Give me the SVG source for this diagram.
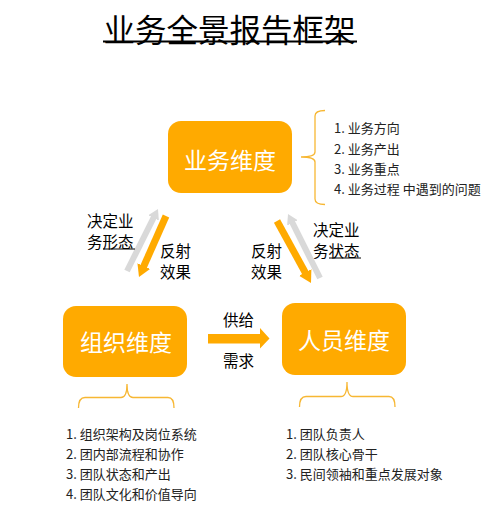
<svg xmlns="http://www.w3.org/2000/svg" width="499" height="514" viewBox="0 0 499 514">
<style>
text{font-family:"Noto Sans CJK SC","Liberation Sans",sans-serif;}
.box{fill:#FFAA00;}
.bl{fill:#fff;font-size:23px;text-anchor:middle;dominant-baseline:central;}
.lbl{fill:#000;font-size:15.5px;dominant-baseline:central;}
.li{fill:#222;font-size:13px;dominant-baseline:central;}
.brace{fill:none;stroke:#F7B733;stroke-width:1.3;}
.ua{stroke:#D9D9D9;stroke-width:6;fill:none;}
.oa{stroke:#FFAA00;stroke-width:7;fill:none;}
</style>
<defs>
<marker id="ho" markerUnits="userSpaceOnUse" viewBox="0 0 12 14" markerWidth="12" markerHeight="14" refX="2" refY="7" orient="auto"><path d="M0,0 L12,7 L0,14 z" fill="#FFAA00"/></marker>
<marker id="hg" markerUnits="userSpaceOnUse" viewBox="0 0 10 12" markerWidth="10" markerHeight="12" refX="2" refY="6" orient="auto"><path d="M0,0 L10,6 L0,12 z" fill="#D9D9D9"/></marker>
</defs>
<rect width="499" height="514" fill="#fff"/>
<g id="title">
<text x="229.5" y="28" font-size="31.5" text-anchor="middle" dominant-baseline="central" fill="#000">业务全景报告框架</text>
<rect x="103" y="40.5" width="254" height="2" fill="#000"/>
</g>
<g id="node-business">
<rect class="box" x="168" y="121" width="124" height="72" rx="13"/>
<text class="bl" x="230" y="159">业务维度</text>
</g>
<g id="node-org">
<rect class="box" x="63" y="306" width="124" height="71" rx="13"/>
<text class="bl" x="126" y="341">组织维度</text>
</g>
<g id="node-people">
<rect class="box" x="282" y="303" width="124" height="72" rx="13"/>
<text class="bl" x="344" y="339">人员维度</text>
</g>
<g id="connectors">
<line class="ua" x1="127" y1="271" x2="154.4" y2="216.2" marker-end="url(#hg)"/>
<line class="oa" x1="166" y1="216" x2="143.05" y2="267.85" marker-end="url(#ho)"/>
<line class="oa" x1="277" y1="221" x2="306.2" y2="274.2" marker-end="url(#ho)"/>
<line class="ua" x1="320" y1="278" x2="291.6" y2="221.2" marker-end="url(#hg)"/>
<polygon points="208,334 260,334 260,328 269.5,338.5 260,348.5 260,343.5 208,343.5" fill="#FFAA00"/>
</g>
<g id="labels">
<text class="lbl" x="87" y="220">决定业</text>
<text class="lbl" x="87" y="241">务形态</text>
<rect x="103" y="248.5" width="32" height="1" fill="#000"/>
<text class="lbl" x="160" y="250">反射</text>
<text class="lbl" x="160" y="271">效果</text>
<text class="lbl" x="251" y="249.5">反射</text>
<text class="lbl" x="251" y="270.5">效果</text>
<text class="lbl" x="313" y="229">决定业</text>
<text class="lbl" x="313" y="250">务状态</text>
<rect x="329" y="257.5" width="32" height="1" fill="#000"/>
<text class="lbl" x="223" y="319" font-size="15">供给</text>
<text class="lbl" x="223" y="360" font-size="15">需求</text>
</g>
<g id="list-business">
<path class="brace" d="M325,110.5 Q315,110.5 315,116 L315,152 Q315,157 301,157 Q315,157 315,162 L315,199 Q315,204.5 325,204.5"/>
<text class="li" x="334" y="127">1. 业务方向</text>
<text class="li" x="334" y="148">2. 业务产出</text>
<text class="li" x="334" y="168">3. 业务重点</text>
<text class="li" x="334" y="188">4. 业务过程 中遇到的问题</text>
</g>
<g id="list-org">
<path class="brace" d="M78.5,408 Q78.5,397.5 85,397.5 L121,397.5 Q127,397.5 127,384 Q127,397.5 133,397.5 L168,397.5 Q174,397.5 174,408"/>
<text class="li" x="66" y="433">1. 组织架构及岗位系统</text>
<text class="li" x="66" y="453">2. 团内部流程和协作</text>
<text class="li" x="66" y="473">3. 团队状态和产出</text>
<text class="li" x="66" y="493">4. 团队文化和价值导向</text>
</g>
<g id="list-people">
<path class="brace" d="M299.5,407 Q299.5,396.5 306,396.5 L341,396.5 Q347,396.5 347,382 Q347,396.5 353,396.5 L389,396.5 Q395,396.5 395,407"/>
<text class="li" x="286" y="433">1. 团队负责人</text>
<text class="li" x="286" y="453">2. 团队核心骨干</text>
<text class="li" x="286" y="473">3. 民间领袖和重点发展对象</text>
</g>
</svg>
